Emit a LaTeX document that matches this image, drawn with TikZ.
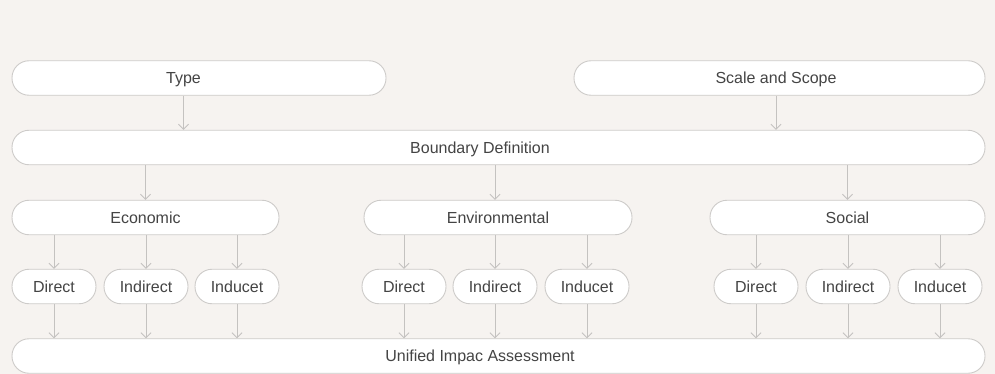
\documentclass[tikz,border=0pt]{standalone}
\usepackage{fontspec}
\setmainfont{Liberation Sans}
\usetikzlibrary{arrows.meta}
\definecolor{bgc}{HTML}{F6F3F0}
\definecolor{bdc}{HTML}{CDCBC9}
\definecolor{txc}{HTML}{444444}
\definecolor{arc}{HTML}{C4C2C0}
\begin{document}
\begin{tikzpicture}[x=1pt,y=-1pt,
  pill/.style={draw=bdc, line width=0.9pt, fill=white, rounded corners=17pt,
    minimum height=34.5pt, inner sep=0pt, text=txc,
    font=\fontsize{16}{18}\selectfont, text height=11.3pt, text depth=0pt},
  lbl/.style={inner sep=0pt, text=txc,
    font=\fontsize{16}{18}\selectfont, text height=11.3pt, text depth=0pt},
  arr/.style={draw=arc, line width=0.9pt, -{Straight Barb[length=5pt,width=10pt,line width=0.9pt]}}
]
\useasboundingbox[fill=bgc] (0,0) rectangle (995,374);
\node[pill, minimum width=374pt] (type) at (199,78) {};
\node[lbl] (typet) at (183.5,78) {Type};
\node[pill, minimum width=411pt] (scale) at (779.5,78) {};
\node[lbl] (scalet) at (776,78) {Scale and Scope};
\node[pill, minimum width=973pt] (bd) at (498.5,147.5) {};
\node[lbl] (bdt) at (480,147.5) {Boundary Definition};
\node[pill, minimum width=267pt] (eco) at (145.5,217.5) {Economic};
\node[pill, minimum width=268pt] (env) at (498,217.5) {Environmental};
\node[pill, minimum width=275pt] (soc) at (847.5,217.5) {Social};
\foreach \n/\x/\t in {ed/54/Direct, ei/146/Indirect, eu/237/Inducet,
                      nd/404/Direct, ni/495/Indirect, nu/587/Inducet,
                      sd/756/Direct, si/848/Indirect, su/940/Inducet}{
  \node[pill, minimum width=84pt] (\n) at (\x,286.5) {\t};
}
\node[pill, minimum width=973pt] (uni) at (498.5,356) {};
\node[lbl] (unit) at (480,356) {Unified Impac Assessment};
\draw[arr] (type.south -| typet) -- (bd.north -| typet);
\draw[arr] (scale.south -| scalet) -- (bd.north -| scalet);
\draw[arr] (bd.south -| eco) -- (eco.north);
\draw[arr] (bd.south -| ni) -- (env.north -| ni);
\draw[arr] (bd.south -| soc) -- (soc.north);
\foreach \p/\n in {eco/ed, eco/ei, eco/eu, env/nd, env/ni, env/nu, soc/sd, soc/si, soc/su}{
  \draw[arr] (\p.south -| \n) -- (\n.north);
  \draw[arr] (\n.south) -- (uni.north -| \n);
}
\end{tikzpicture}
\end{document}
